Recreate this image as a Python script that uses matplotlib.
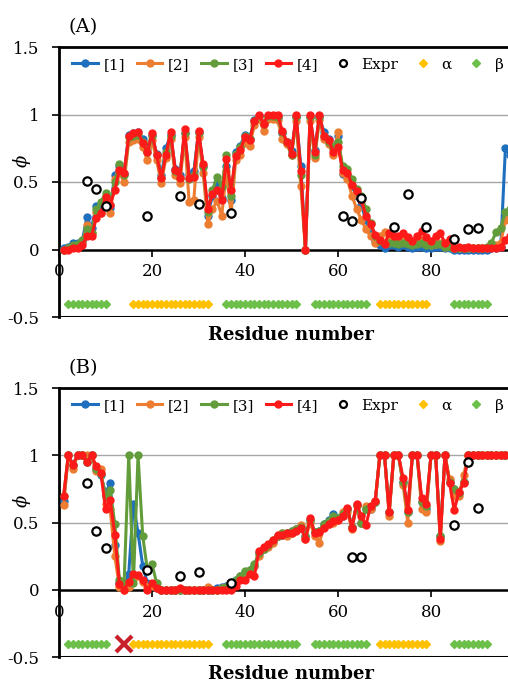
import matplotlib.pyplot as plt
from matplotlib.lines import Line2D
import numpy as np

residues = list(range(1, 99))

# ---- panel (A) ----
a_blue = [0.01, 0.02, 0.05, 0.05, 0.06, 0.24, 0.16, 0.32, 0.31, 0.36,
          0.31, 0.55, 0.62, 0.56, 0.85, 0.86, 0.87, 0.82, 0.75, 0.85,
          0.71, 0.55, 0.75, 0.85, 0.60, 0.55, 0.86, 0.56, 0.58, 0.87,
          0.62, 0.25, 0.40, 0.49, 0.38, 0.62, 0.37, 0.72, 0.77, 0.85,
          0.82, 0.96, 0.99, 0.94, 0.99, 0.99, 0.98, 0.86, 0.80, 0.73,
          0.98, 0.62, 0.00, 0.98, 0.74, 0.98, 0.87, 0.82, 0.75, 0.84,
          0.56, 0.55, 0.47, 0.40, 0.33, 0.22, 0.13, 0.06, 0.03, 0.01,
          0.03, 0.03, 0.02, 0.03, 0.02, 0.01, 0.02, 0.02, 0.01, 0.01,
          0.02, 0.02, 0.01, 0.01, 0.00, 0.00, 0.00, 0.00, 0.00, 0.00,
          0.00, 0.00, 0.01, 0.01, 0.02, 0.75, 0.70, 0.68]
a_orange = [0.00, 0.01, 0.02, 0.03, 0.05, 0.18, 0.12, 0.28, 0.27, 0.35,
            0.27, 0.52, 0.57, 0.50, 0.80, 0.81, 0.82, 0.76, 0.66, 0.81,
            0.66, 0.49, 0.68, 0.82, 0.55, 0.49, 0.83, 0.35, 0.37, 0.83,
            0.57, 0.19, 0.30, 0.36, 0.25, 0.58, 0.26, 0.66, 0.70, 0.79,
            0.77, 0.92, 0.97, 0.88, 0.97, 0.97, 0.96, 0.82, 0.78, 0.70,
            0.95, 0.47, 0.00, 0.95, 0.68, 0.96, 0.82, 0.78, 0.70, 0.87,
            0.57, 0.52, 0.40, 0.30, 0.22, 0.15, 0.10, 0.05, 0.10, 0.13,
            0.08, 0.07, 0.06, 0.08, 0.05, 0.04, 0.06, 0.07, 0.04, 0.03,
            0.04, 0.05, 0.02, 0.03, 0.01, 0.01, 0.01, 0.01, 0.01, 0.01,
            0.01, 0.01, 0.02, 0.03, 0.05, 0.22, 0.25, 0.25]
a_green = [0.00, 0.01, 0.03, 0.04, 0.07, 0.15, 0.12, 0.30, 0.35, 0.42,
           0.33, 0.50, 0.63, 0.55, 0.83, 0.84, 0.85, 0.80, 0.72, 0.84,
           0.70, 0.53, 0.72, 0.84, 0.58, 0.53, 0.86, 0.52, 0.55, 0.86,
           0.61, 0.28, 0.44, 0.54, 0.46, 0.70, 0.40, 0.71, 0.76, 0.84,
           0.82, 0.95, 0.99, 0.93, 0.99, 0.99, 0.98, 0.87, 0.80, 0.70,
           0.98, 0.55, 0.00, 0.98, 0.70, 0.98, 0.84, 0.80, 0.76, 0.80,
           0.62, 0.60, 0.52, 0.45, 0.40, 0.30, 0.20, 0.10, 0.06, 0.05,
           0.05, 0.05, 0.04, 0.05, 0.04, 0.03, 0.04, 0.05, 0.03, 0.03,
           0.04, 0.04, 0.02, 0.02, 0.01, 0.01, 0.01, 0.01, 0.01, 0.01,
           0.01, 0.02, 0.05, 0.13, 0.16, 0.28, 0.30, 0.30]
a_red = [0.00, 0.00, 0.01, 0.01, 0.03, 0.10, 0.10, 0.23, 0.27, 0.39,
         0.33, 0.44, 0.59, 0.57, 0.84, 0.86, 0.87, 0.79, 0.72, 0.86,
         0.70, 0.53, 0.70, 0.87, 0.59, 0.53, 0.89, 0.53, 0.54, 0.88,
         0.63, 0.30, 0.41, 0.44, 0.37, 0.67, 0.44, 0.69, 0.74, 0.83,
         0.81, 0.95, 1.00, 0.93, 1.00, 1.00, 1.00, 0.88, 0.80, 0.71,
         1.00, 0.58, 0.00, 1.00, 0.72, 1.00, 0.84, 0.81, 0.72, 0.76,
         0.59, 0.57, 0.48, 0.43, 0.37, 0.25, 0.19, 0.11, 0.07, 0.04,
         0.12, 0.10, 0.10, 0.12, 0.09, 0.06, 0.10, 0.14, 0.09, 0.06,
         0.10, 0.12, 0.05, 0.08, 0.01, 0.02, 0.01, 0.02, 0.01, 0.01,
         0.01, 0.01, 0.01, 0.01, 0.02, 0.07, 0.10, 0.12]
a_expr_x = [6, 8, 10, 19, 26, 30, 37, 61, 63, 65, 72, 75, 79, 85, 88, 90]
a_expr_y = [0.51, 0.45, 0.32, 0.25, 0.40, 0.34, 0.27, 0.25, 0.21, 0.38,
            0.17, 0.41, 0.17, 0.08, 0.15, 0.16]

# ---- panel (B) ----
b_blue = [0.66, 1.00, 0.93, 1.00, 1.00, 0.95, 1.00, 0.90, 0.85, 0.72,
          0.79, 0.33, 0.05, 0.02, 0.12, 0.64, 0.42, 0.18, 0.05, 0.03,
          0.01, 0.00, 0.00, 0.00, 0.00, 0.00, 0.00, 0.00, 0.00, 0.00,
          0.00, 0.00, 0.00, 0.01, 0.02, 0.03, 0.05, 0.07, 0.10, 0.13,
          0.15, 0.18, 0.27, 0.30, 0.33, 0.36, 0.40, 0.41, 0.42, 0.44,
          0.45, 0.46, 0.40, 0.52, 0.43, 0.44, 0.49, 0.52, 0.56, 0.53,
          0.55, 0.60, 0.47, 0.63, 0.50, 0.60, 0.60, 0.65, 1.00, 1.00,
          0.58, 1.00, 1.00, 0.80, 0.58, 1.00, 1.00, 0.65, 0.60, 1.00,
          1.00, 0.40, 1.00, 0.80, 0.75, 0.72, 0.80, 1.00, 1.00, 1.00,
          1.00, 1.00, 1.00, 1.00, 1.00, 1.00, 1.00, 1.00]
b_orange = [0.63, 1.00, 0.90, 1.00, 1.00, 1.00, 1.00, 0.88, 0.90, 0.64,
            0.60, 0.25, 0.02, 0.00, 0.02, 0.08, 0.10, 0.06, 0.02, 0.03,
            0.01, 0.00, 0.00, 0.00, 0.00, 0.00, 0.00, 0.00, 0.00, 0.00,
            0.00, 0.02, 0.00, 0.00, 0.01, 0.02, 0.04, 0.06, 0.10, 0.12,
            0.14, 0.18, 0.25, 0.30, 0.32, 0.35, 0.40, 0.42, 0.40, 0.42,
            0.45, 0.48, 0.38, 0.50, 0.40, 0.35, 0.47, 0.49, 0.50, 0.52,
            0.58, 0.58, 0.45, 0.62, 0.50, 0.62, 0.60, 0.66, 1.00, 1.00,
            0.55, 1.00, 1.00, 0.78, 0.50, 1.00, 1.00, 0.60, 0.58, 1.00,
            1.00, 0.36, 1.00, 0.82, 0.70, 0.70, 0.85, 1.00, 1.00, 1.00,
            1.00, 1.00, 1.00, 1.00, 1.00, 1.00, 1.00, 1.00]
b_green = [0.70, 1.00, 0.93, 1.00, 1.00, 0.95, 1.00, 0.90, 0.86, 0.70,
           0.74, 0.49, 0.07, 0.05, 1.00, 0.05, 1.00, 0.40, 0.15, 0.19,
           0.05, 0.00, 0.00, 0.00, 0.00, 0.00, 0.00, 0.00, 0.00, 0.00,
           0.00, 0.00, 0.00, 0.00, 0.01, 0.02, 0.04, 0.07, 0.10, 0.14,
           0.15, 0.19, 0.27, 0.30, 0.33, 0.37, 0.40, 0.42, 0.42, 0.44,
           0.45, 0.47, 0.40, 0.52, 0.43, 0.44, 0.49, 0.51, 0.55, 0.53,
           0.56, 0.60, 0.47, 0.63, 0.50, 0.60, 0.62, 0.65, 1.00, 1.00,
           0.58, 1.00, 1.00, 0.80, 0.58, 1.00, 1.00, 0.65, 0.62, 1.00,
           1.00, 0.40, 1.00, 0.80, 0.75, 0.72, 0.80, 1.00, 1.00, 1.00,
           1.00, 1.00, 1.00, 1.00, 1.00, 1.00, 1.00, 1.00]
b_red = [0.70, 1.00, 0.93, 1.00, 1.00, 0.95, 1.00, 0.92, 0.87, 0.60,
         0.67, 0.41, 0.04, 0.00, 0.06, 0.12, 0.11, 0.07, 0.00, 0.05,
         0.01, 0.00, 0.00, 0.00, 0.00, 0.01, 0.00, 0.00, 0.00, 0.00,
         0.00, 0.00, 0.00, 0.00, 0.00, 0.00, 0.00, 0.03, 0.07, 0.07,
         0.12, 0.10, 0.29, 0.32, 0.34, 0.37, 0.41, 0.41, 0.42, 0.42,
         0.44, 0.46, 0.38, 0.53, 0.42, 0.43, 0.46, 0.49, 0.51, 0.52,
         0.55, 0.61, 0.46, 0.64, 0.55, 0.48, 0.62, 0.66, 1.00, 1.00,
         0.58, 1.00, 1.00, 0.83, 0.59, 1.00, 1.00, 0.68, 0.64, 1.00,
         1.00, 0.38, 1.00, 0.79, 0.59, 0.73, 0.79, 1.00, 1.00, 1.00,
         1.00, 1.00, 1.00, 1.00, 1.00, 1.00, 1.00, 1.00]
b_expr_x = [6, 8, 10, 19, 26, 30, 37, 63, 65, 85, 88, 90]
b_expr_y = [0.79, 0.44, 0.31, 0.15, 0.10, 0.13, 0.05, 0.24, 0.24, 0.48,
            0.95, 0.61]

# secondary structure (residue ranges)
alpha_res = list(range(16, 33)) + list(range(69, 80))
beta_res = list(range(2, 11)) + list(range(36, 52)) + list(range(55, 67)) + list(range(85, 93))
missing_res = [14]

series_names = ['[1]', '[2]', '[3]', '[4]']
series_colors = ['#1f6fbf', '#ed7d31', '#639c3b', '#ff1a1a']
alpha_color = '#ffc000'
beta_color = '#6cc04a'

plt.rcParams['font.family'] = 'DejaVu Serif'

fig = plt.figure(figsize=(5.08, 6.82), dpi=100)


def draw_panel(ax, series, expr_x, expr_y, label, cross=False):
    for vals, c in zip(series, series_colors):
        ax.plot(residues, vals, '-o', color=c, lw=2.2, ms=5, zorder=3)
    ax.plot(expr_x, expr_y, 'o', mfc='white', mec='black', mew=1.6, ms=6,
            zorder=5)
    ax.plot(beta_res, [-0.4] * len(beta_res), 'D', color=beta_color, ms=4,
            zorder=3)
    ax.plot(alpha_res, [-0.4] * len(alpha_res), 'D', color=alpha_color,
            ms=4, zorder=3)
    if cross:
        ax.plot(missing_res, [-0.4], 'x', color='#c8202a', ms=11, mew=3,
                zorder=4)

    ax.set_xlim(0, 100)
    ax.set_ylim(-0.5, 1.5)
    ax.set_yticks([-0.5, 0, 0.5, 1, 1.5])
    ax.set_yticklabels(['-0.5', '0', '0.5', '1', '1.5'])
    ax.set_xticks([0, 20, 40, 60, 80])
    ax.set_xticklabels(['0', '20', '40', '60', '80'])
    for yv in [0.5, 1.0]:
        ax.axhline(yv, color='#a6a6a6', lw=1, zorder=1)
    ax.axhline(-0.5, color='black', lw=2.2, zorder=2)
    ax.spines['bottom'].set_position(('data', 0))
    ax.spines['bottom'].set_linewidth(1.8)
    ax.spines['left'].set_linewidth(2)
    ax.spines['top'].set_linewidth(2)
    ax.spines['right'].set_visible(False)
    ax.tick_params(axis='both', labelsize=12, width=1.2, length=5,
                   direction='out')
    ax.tick_params(axis='x', pad=5)
    ax.tick_params(axis='y', pad=9)
    ax.set_ylabel('ϕ', fontsize=13, fontstyle='italic')
    ax.yaxis.set_label_coords(-0.06, 0.58)
    ax.text(0.5, -0.065, 'Residue number', transform=ax.transAxes,
            ha='center', va='center', fontsize=13, fontweight='bold')
    ax.text(0.02, 1.075, label, transform=ax.transAxes, ha='left',
            va='center', fontsize=14)

    handles = [Line2D([], [], color=c, lw=2.2, marker='o', ms=5)
               for c in series_colors]
    handles.append(Line2D([], [], ls='none', marker='o', mfc='white',
                          mec='black', mew=1.6, ms=5))
    handles.append(Line2D([], [], ls='none', marker='D', color=alpha_color,
                          ms=4))
    handles.append(Line2D([], [], ls='none', marker='D', color=beta_color,
                          ms=4))
    ax.legend(handles, series_names + ['Expr', 'α', 'β'], ncol=7,
              loc='upper left', bbox_to_anchor=(0.006, 1.0), frameon=False,
              fontsize=11, handlelength=1.64, handletextpad=0.39,
              columnspacing=0.785, borderaxespad=0.3)


ax_a = fig.add_axes([59 / 508, 1 - 317 / 682, 465 / 508, 270 / 682])
draw_panel(ax_a, [a_blue, a_orange, a_green, a_red], a_expr_x, a_expr_y,
           '(A)')
ax_b = fig.add_axes([59 / 508, 1 - 657 / 682, 465 / 508, 269 / 682])
draw_panel(ax_b, [b_blue, b_orange, b_green, b_red], b_expr_x, b_expr_y,
           '(B)', cross=True)

fig.savefig('out.png', dpi=100)
